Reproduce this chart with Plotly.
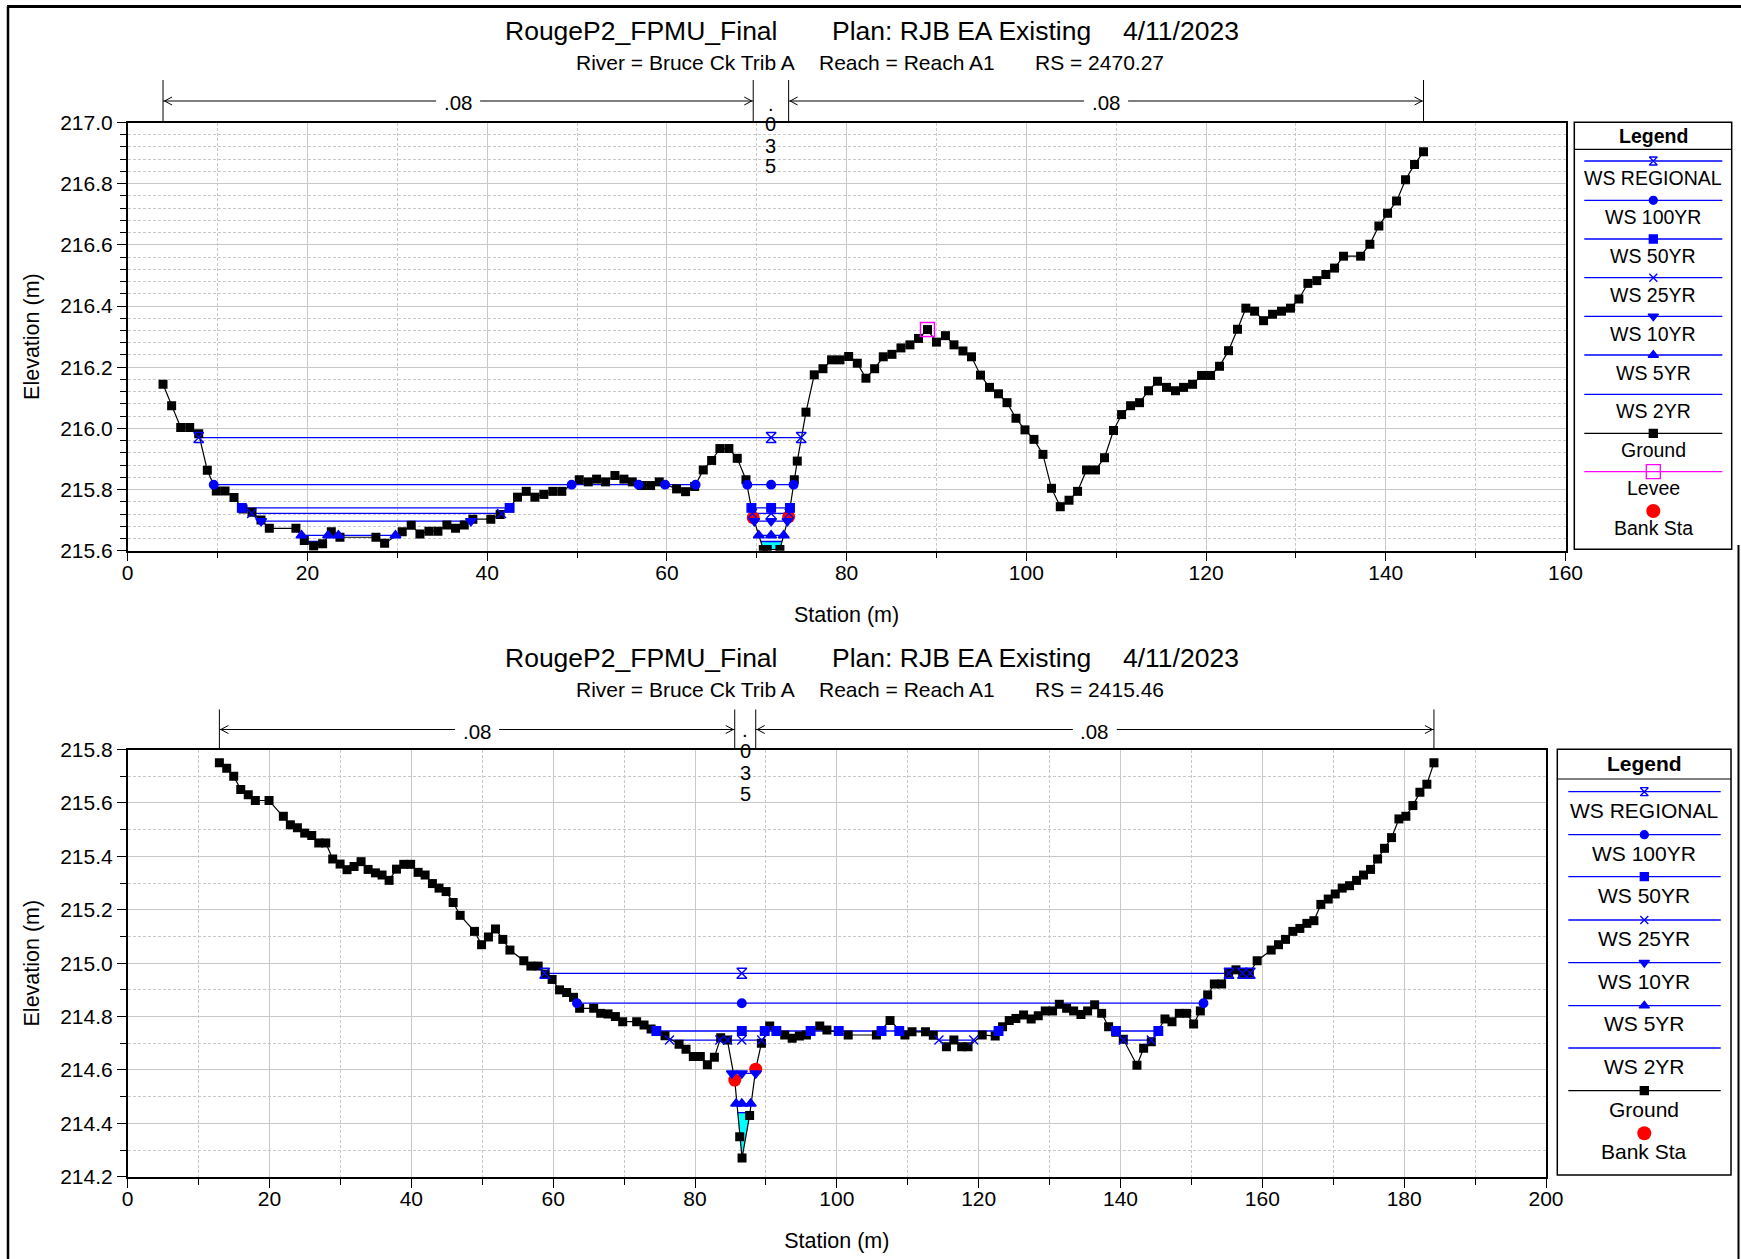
import plotly.graph_objects as go

W, H = 1741, 1259
FONT = "Liberation Sans, Arial, sans-serif"
BLUE = "#0000FF"

def px(x):
    return x / W

def py(y):
    return 1 - y / H

# ---------------- DATA: upper cross section (RS 2470.27) ----------------
top_ground = [
    (3.93, 216.144), (4.89, 216.074), (5.9, 216.003), (6.9, 216.003), (7.9, 215.982),
    (8.86, 215.863), (9.86, 215.795), (10.83, 215.795), (11.83, 215.774), (12.83, 215.736),
    (13.83, 215.726), (14.83, 215.700), (15.76, 215.673), (18.72, 215.673), (19.65, 215.633),
    (20.69, 215.615), (21.69, 215.623), (22.66, 215.662), (23.62, 215.644), (27.62, 215.644),
    (28.59, 215.624), (30.55, 215.662), (31.55, 215.683), (32.52, 215.655), (33.52, 215.664),
    (34.52, 215.664), (35.52, 215.684), (36.48, 215.673), (37.45, 215.684), (38.41, 215.703),
    (40.41, 215.703), (41.45, 215.718), (42.49, 215.740), (43.38, 215.775), (44.35, 215.794),
    (45.31, 215.775), (46.31, 215.784), (47.31, 215.794), (48.31, 215.794), (50.25, 215.832),
    (51.25, 215.825), (52.18, 215.834), (53.18, 215.825), (54.22, 215.846), (55.22, 215.834),
    (56.15, 215.825), (57.19, 215.813), (58.19, 215.813), (59.15, 215.825), (61.08, 215.802),
    (62.08, 215.793), (63.09, 215.810), (64.05, 215.864), (64.98, 215.895), (65.9, 215.934),
    (66.9, 215.934), (67.83, 215.902), (68.8, 215.832), (69.61, 215.708), (70.73, 215.604),
    (71.17, 215.604), (72.58, 215.604), (73.55, 215.711), (74.18, 215.832), (74.51, 215.893),
    (75.48, 216.053), (76.4, 216.175), (77.37, 216.195), (78.33, 216.224), (79.26, 216.224),
    (80.23, 216.235), (81.19, 216.213), (82.15, 216.164), (83.12, 216.195), (84.08, 216.234),
    (85.05, 216.242), (86.05, 216.263), (87.05, 216.273), (88.0, 216.294), (89.0, 216.323),
    (90.0, 216.282), (91.0, 216.303), (91.95, 216.273), (92.95, 216.253), (93.9, 216.234),
    (94.9, 216.174), (95.9, 216.134), (96.9, 216.113), (97.85, 216.084), (98.85, 216.033),
    (99.85, 215.995), (100.85, 215.964), (101.85, 215.915), (102.8, 215.804), (103.78, 215.744),
    (104.75, 215.765), (105.7, 215.794), (106.7, 215.864), (107.7, 215.864), (108.7, 215.904),
    (109.7, 215.993), (110.6, 216.045), (111.6, 216.074), (112.6, 216.084), (113.6, 216.123),
    (114.6, 216.154), (115.6, 216.134), (116.6, 216.123), (117.5, 216.134), (118.5, 216.144),
    (119.5, 216.173), (120.5, 216.173), (121.5, 216.203), (122.5, 216.254), (123.5, 216.324),
    (124.43, 216.393), (125.4, 216.383), (126.4, 216.352), (127.4, 216.373), (128.4, 216.383),
    (129.4, 216.393), (130.33, 216.423), (131.33, 216.474), (132.33, 216.483), (133.33, 216.503),
    (134.3, 216.524), (135.3, 216.563), (137.2, 216.563), (138.23, 216.602), (139.23, 216.662),
    (140.2, 216.703), (141.2, 216.743), (142.2, 216.813), (143.2, 216.863), (144.2, 216.904),
]
top_bank = [(69.61, 215.708), (73.55, 215.711)]
top_levee = [(89.0, 216.323)]
top_ws_elev = [215.97, 215.816, 215.74, 215.722, 215.697, 215.65, 215.63]
top_ws_segments = [
    [(7.9, 74.95)],
    [(9.57, 63.2), (68.95, 74.1)],
    [(12.7, 42.5), (69.4, 73.7)],
    [(13.8, 41.6), (69.52, 73.61)],
    [(14.85, 38.2), (69.73, 73.42)],
    [(19.35, 22.3), (23.45, 29.8), (70.23, 73.0)],
    [(19.85, 21.85), (70.45, 72.82)],
]
top_ws_markers = [
    [7.9, 71.6, 74.95],
    [9.57, 49.4, 56.85, 59.8, 63.2, 68.95, 71.6, 74.1],
    [12.7, 42.5, 69.4, 71.6, 73.7],
    [13.8, 41.6, 69.52, 71.6, 73.61],
    [14.85, 38.2, 69.73, 71.6, 73.42],
    [19.35, 22.3, 23.45, 29.8, 70.23, 71.6, 73.0],
    [],
]
top_x_ticks = [0, 20, 40, 60, 80, 100, 120, 140, 160]
top_y_range = [215.6, 217.0]
top_n_values = [".08", ".035", ".08"]
top_title = ["RougeP2_FPMU_Final", "Plan: RJB EA Existing", "4/11/2023"]
top_subtitle = ["River = Bruce Ck Trib A", "Reach = Reach A1", "RS = 2470.27"]

# ---------------- DATA: lower cross section (RS 2415.46) ----------------
bot_ground = [
    (12.93, 215.75), (13.96, 215.73), (14.95, 215.70), (15.94, 215.65), (17.0, 215.631),
    (18.0, 215.609), (19.93, 215.609), (21.95, 215.55), (22.94, 215.518), (23.93, 215.507),
    (24.96, 215.487), (25.95, 215.478), (26.94, 215.45), (27.93, 215.45), (28.91, 215.39),
    (29.95, 215.371), (30.93, 215.35), (31.92, 215.362), (32.91, 215.38), (33.9, 215.351),
    (34.93, 215.338), (35.87, 215.33), (36.86, 215.31), (37.9, 215.352), (38.93, 215.37),
    (39.9, 215.37), (40.95, 215.34), (41.94, 215.33), (42.97, 215.298), (43.9, 215.281),
    (44.9, 215.268), (45.89, 215.227), (46.88, 215.179), (48.9, 215.119), (49.9, 215.069),
    (50.87, 215.098), (51.86, 215.128), (52.9, 215.089), (53.9, 215.049), (55.86, 215.009),
    (56.85, 214.989), (57.88, 214.989), (58.87, 214.959), (59.85, 214.939), (60.9, 214.90),
    (61.9, 214.89), (62.86, 214.872), (63.73, 214.831), (65.71, 214.831), (66.7, 214.812),
    (67.73, 214.81), (68.77, 214.80), (69.8, 214.781), (71.77, 214.781), (72.81, 214.768),
    (73.8, 214.753), (75.77, 214.728), (77.75, 214.696), (78.73, 214.678), (79.76, 214.65),
    (80.75, 214.65), (81.74, 214.62), (82.73, 214.648), (83.62, 214.721), (84.56, 214.712),
    (85.6, 214.562), (86.3, 214.35), (86.63, 214.27), (87.7, 214.43), (88.56, 214.603),
    (89.36, 214.70), (90.53, 214.765), (92.65, 214.731), (93.7, 214.719), (94.71, 214.727),
    (95.71, 214.731), (97.59, 214.765), (98.6, 214.75), (101.6, 214.731), (105.58, 214.731),
    (107.5, 214.785), (109.6, 214.731), (110.6, 214.743), (112.5, 214.743), (113.6, 214.73),
    (115.45, 214.687), (116.5, 214.712), (117.6, 214.687), (118.5, 214.687), (120.5, 214.731),
    (122.33, 214.727), (123.37, 214.762), (124.31, 214.785), (125.25, 214.793), (126.33, 214.806),
    (127.4, 214.791), (128.4, 214.803), (129.39, 214.821), (130.42, 214.821), (131.37, 214.846),
    (132.4, 214.831), (133.39, 214.821), (134.42, 214.808), (135.36, 214.821), (136.35, 214.844),
    (137.34, 214.812), (138.32, 214.762), (139.36, 214.741), (140.39, 214.715), (142.32, 214.618),
    (143.26, 214.681), (144.34, 214.706), (146.27, 214.791), (147.26, 214.781), (148.29, 214.812),
    (149.33, 214.812), (150.31, 214.772), (151.26, 214.821), (152.29, 214.881), (153.23, 214.922),
    (154.26, 214.922), (155.25, 214.962), (156.28, 214.975), (157.23, 214.962), (158.17, 214.962),
    (159.27, 215.009), (161.25, 215.049), (162.28, 215.069), (163.27, 215.089), (164.3, 215.119),
    (165.29, 215.13), (166.28, 215.149), (167.27, 215.159), (168.25, 215.22), (169.29, 215.24),
    (170.28, 215.259), (171.26, 215.281), (172.3, 215.29), (173.29, 215.31), (174.27, 215.33),
    (175.26, 215.351), (176.25, 215.39), (177.23, 215.43), (178.22, 215.47), (179.26, 215.54),
    (180.24, 215.55), (181.23, 215.59), (182.22, 215.64), (183.2, 215.67), (184.2, 215.75),
]
bot_bank = [(85.6, 214.562), (88.56, 214.603)]
bot_ws_elev = [214.962, 214.85, 214.746, 214.712, 214.587, 214.474, 214.44]
bot_ws_segments = [
    [(58.8, 155.3), (157.0, 158.7)],
    [(63.36, 151.7)],
    [(74.55, 122.8), (139.36, 145.33)],
    [(76.4, 83.5), (84.6, 89.4), (114.4, 119.3), (140.4, 144.34)],
    [(85.2, 88.56)],
    [(85.8, 87.85)],
    [(86.0, 87.75)],
]
bot_ws_markers = [
    [58.8, 86.6, 155.3, 157.2, 158.3],
    [63.36, 86.6, 151.7],
    [74.55, 86.6, 89.83, 91.47, 96.3, 100.27, 106.3, 108.8, 122.8, 139.36, 145.33],
    [76.4, 83.5, 84.6, 86.6, 89.4, 114.4, 119.3, 140.4, 144.34],
    [85.2, 86.6, 88.56],
    [85.8, 86.6, 87.85],
    [],
]
bot_x_ticks = [0, 20, 40, 60, 80, 100, 120, 140, 160, 180, 200]
bot_y_range = [214.2, 215.8]
bot_n_values = [".08", ".035", ".08"]
bot_title = ["RougeP2_FPMU_Final", "Plan: RJB EA Existing", "4/11/2023"]
bot_subtitle = ["River = Bruce Ck Trib A", "Reach = Reach A1", "RS = 2415.46"]

ws_names = ["WS REGIONAL", "WS 100YR", "WS 50YR", "WS 25YR", "WS 10YR", "WS 5YR", "WS 2YR"]
x_title = "Station (m)"
y_title = "Elevation (m)"

# ---------------- styles ----------------
ws_symbols = ["hourglass-open", "circle", "square", "x-thin-open", "triangle-down", "triangle-up", None]
ws_sizes = [10, 8.5, 8.5, 9, 9.5, 9.5, 0]

fig = go.Figure()

# layout geometry (pixels)
TOP = dict(l=127.7, r=1565.5, t=122.5, b=550.7)
BOT = dict(l=127.7, r=1546.0, t=749.5, b=1176.8)


def add_section(xa, ya, ground, bank, levee, ws_elev, ws_segs, ws_marks):
    gs = [g[0] for g in ground]
    ge = [g[1] for g in ground]
    # cyan fill of the lowest profile
    h = ws_elev[-1]
    for (a, b) in ws_segs[-1]:
        fx = [a] + [s for s in gs if a < s < b] + [b, a]
        fy = [h] + [e for s, e in zip(gs, ge) if a < s < b] + [h, h]
        fig.add_trace(go.Scatter(x=fx, y=fy, xaxis=xa, yaxis=ya, fill="toself",
                                 fillcolor="#00FFFF", mode="lines", line=dict(width=0),
                                 showlegend=False, hoverinfo="skip"))
    # WS lines
    for i, elev in enumerate(ws_elev):
        lx, ly = [], []
        for (a, b) in ws_segs[i]:
            lx += [a, b, None]
            ly += [elev, elev, None]
        fig.add_trace(go.Scatter(x=lx, y=ly, xaxis=xa, yaxis=ya, mode="lines",
                                 line=dict(color=BLUE, width=1.3), showlegend=False,
                                 name=ws_names[i]))
    # ground
    fig.add_trace(go.Scatter(x=gs, y=ge, xaxis=xa, yaxis=ya, mode="lines+markers",
                             line=dict(color="black", width=1.2),
                             marker=dict(symbol="square", size=9, color="black"),
                             showlegend=False, name="Ground"))
    # bank stations
    fig.add_trace(go.Scatter(x=[b[0] for b in bank], y=[b[1] for b in bank], xaxis=xa, yaxis=ya,
                             mode="markers", marker=dict(symbol="circle", size=13, color="#FF0000"),
                             showlegend=False, name="Bank Sta"))
    # WS markers
    for i, elev in enumerate(ws_elev):
        if not ws_marks[i]:
            continue
        fig.add_trace(go.Scatter(x=ws_marks[i], y=[elev] * len(ws_marks[i]), xaxis=xa, yaxis=ya,
                                 mode="markers",
                                 marker=dict(symbol=ws_symbols[i], size=ws_sizes[i], color=BLUE,
                                             line=dict(color=BLUE, width=1.4)),
                                 showlegend=False, name=ws_names[i]))
    # levee
    if levee:
        fig.add_trace(go.Scatter(x=[v[0] for v in levee], y=[v[1] for v in levee], xaxis=xa, yaxis=ya,
                                 mode="markers",
                                 marker=dict(symbol="square-open", size=14, color="#FF00FF",
                                             line=dict(color="#FF00FF", width=1.4)),
                                 showlegend=False, name="Levee"))


add_section("x", "y", top_ground, top_bank, top_levee, top_ws_elev, top_ws_segments, top_ws_markers)
add_section("x2", "y2", bot_ground, bot_bank, [], bot_ws_elev, bot_ws_segments, bot_ws_markers)

annotations = []
shapes = []
TITLE_FONT = dict(family=FONT, size=21.5, color="black")


def axis_common():
    return dict(showgrid=True, gridcolor="#c8c8c8", gridwidth=1.3, ticks="outside", ticklen=9,
                tickcolor="black", tickwidth=1, showline=True, linecolor="black", linewidth=1.5,
                mirror=True, zeroline=False, fixedrange=True, automargin=False,
                tickfont=dict(family=FONT, size=21, color="black"))


def minor(dt, tl=6):
    return dict(dtick=dt, showgrid=True, gridcolor="#c8c8c8", griddash="3px,2px", gridwidth=1,
                ticks="outside", ticklen=tl, tickcolor="black")


xa1 = axis_common()
xa1.update(domain=[px(TOP["l"]), px(TOP["r"])], range=[0, 160], anchor="y", tickvals=top_x_ticks,
           minor=minor(10), ticklabelstandoff=-7,
           title=dict(text=x_title, font=TITLE_FONT, standoff=24))
ya1 = axis_common()
ya1.update(domain=[py(TOP["b"]), py(TOP["t"])], range=top_y_range, anchor="x", dtick=0.2,
           tick0=215.6, tickformat=".1f", minor=minor(0.04),
           title=dict(text=y_title, font=TITLE_FONT, standoff=15))
xa2 = axis_common()
xa2.update(domain=[px(BOT["l"]), px(BOT["r"])], range=[0, 200], anchor="y2", tickvals=bot_x_ticks,
           minor=minor(10), ticklabelstandoff=-7,
           title=dict(text=x_title, font=TITLE_FONT, standoff=24))
ya2 = axis_common()
ya2.update(domain=[py(BOT["b"]), py(BOT["t"])], range=bot_y_range, anchor="x2", dtick=0.2,
           tick0=214.2, tickformat=".1f", minor=minor(0.1),
           title=dict(text=y_title, font=TITLE_FONT, standoff=15))


def add_frame_text(geo, title, subtitle, y1, y2, ground, bank, nvals, ppu, tick_top, arrow_y,
                   chars_y):
    # titles
    for t, cx in zip(title, [641.5, 961, 1181]):
        annotations.append(dict(text=t, x=px(cx), y=py(y1), xref="paper", yref="paper",
                                showarrow=False, xanchor="center", yanchor="middle",
                                font=dict(family=FONT, size=26.5, color="black")))
    for t, cx in zip(subtitle, [685.5, 907, 1099]):
        annotations.append(dict(text=t, x=px(cx), y=py(y2), xref="paper", yref="paper",
                                showarrow=False, xanchor="center", yanchor="middle",
                                font=dict(family=FONT, size=21, color="black")))
    # Manning's n bracket
    xr = "x" if geo is TOP else "x2"
    x_start = ground[0][0]
    x_end = ground[-1][0]
    lb, rb = bank[0][0], bank[1][0]
    for xv in [x_start, lb, rb, x_end]:
        shapes.append(dict(type="line", xref=xr, yref="paper", x0=xv, x1=xv,
                           y0=py(tick_top), y1=py(geo["t"]), line=dict(color="black", width=1)))
    gap = 22 / ppu
    for (a, b, txt) in [(x_start, lb, nvals[0]), (rb, x_end, nvals[2])]:
        m = (a + b) / 2
        shapes.append(dict(type="line", xref=xr, yref="paper", x0=a, x1=m - gap,
                           y0=py(arrow_y), y1=py(arrow_y), line=dict(color="black", width=1)))
        shapes.append(dict(type="line", xref=xr, yref="paper", x0=m + gap, x1=b,
                           y0=py(arrow_y), y1=py(arrow_y), line=dict(color="black", width=1)))
        shapes.append(dict(type="path", xref=xr, yref="paper", xsizemode="pixel", ysizemode="pixel",
                           xanchor=a, yanchor=py(arrow_y), path="M 9,4 L 1.5,0 L 9,-4",
                           line=dict(color="black", width=1)))
        shapes.append(dict(type="path", xref=xr, yref="paper", xsizemode="pixel", ysizemode="pixel",
                           xanchor=b, yanchor=py(arrow_y), path="M -9,4 L -1.5,0 L -9,-4",
                           line=dict(color="black", width=1)))
        annotations.append(dict(text=txt, x=m, y=py(arrow_y + 1.5), xref=xr, yref="paper",
                                showarrow=False, xanchor="center", yanchor="middle",
                                font=dict(family=FONT, size=20.5, color="black")))
    mid = (lb + rb) / 2
    for ch, yy in zip(list(nvals[1]), chars_y):
        annotations.append(dict(text=ch, x=mid, y=py(yy), xref=xr, yref="paper", showarrow=False,
                                xanchor="center", yanchor="middle",
                                font=dict(family=FONT, size=20, color="black")))


add_frame_text(TOP, top_title, top_subtitle, 31, 62, top_ground, top_bank, top_n_values,
               (TOP["r"] - TOP["l"]) / 160, 80, 101, [104, 124.4, 145.5, 166.5])
add_frame_text(BOT, bot_title, bot_subtitle, 658.4, 689.5, bot_ground, bot_bank, bot_n_values,
               (BOT["r"] - BOT["l"]) / 200, 709.5, 729.5, [730, 750.6, 772.8, 793.9])

# ---------------- legends ----------------
legend_styles = {
    "WS REGIONAL": (BLUE, "hourglass-open", 8),
    "WS 100YR": (BLUE, "circle", 8),
    "WS 50YR": (BLUE, "square", 8),
    "WS 25YR": (BLUE, "x-thin-open", 8),
    "WS 10YR": (BLUE, "triangle-down", 9),
    "WS 5YR": (BLUE, "triangle-up", 9),
    "WS 2YR": (BLUE, None, 0),
    "Ground": ("black", "square", 8),
    "Levee": ("#FF00FF", "square-open", 14),
    "Bank Sta": ("#FF0000", None, 14),
}


def add_legend(xa, ya, box, sep_y, title_y, names, line_ys, text_ys, lx0, lx1, mx, fs):
    l, r, t, b = box
    layout_axes[xa] = dict(domain=[px(l), px(r)], range=[l, r], visible=False, fixedrange=True,
                           automargin=False, anchor=ya.replace("yaxis", "y"))
    layout_axes[ya] = dict(domain=[py(b), py(t)], range=[b, t], visible=False, fixedrange=True,
                           automargin=False, anchor=xa.replace("xaxis", "x"))
    xr = xa.replace("xaxis", "x")
    yr = ya.replace("yaxis", "y")
    shapes.append(dict(type="rect", xref="paper", yref="paper", x0=px(l), x1=px(r), y0=py(b), y1=py(t),
                       line=dict(color="black", width=1.5), fillcolor="white", layer="below"))
    shapes.append(dict(type="line", xref="paper", yref="paper", x0=px(l), x1=px(r), y0=py(sep_y),
                       y1=py(sep_y), line=dict(color="black", width=1.2)))
    annotations.append(dict(text="<b>Legend</b>", x=px((l + r) / 2), y=py(title_y), xref="paper",
                            yref="paper", showarrow=False, xanchor="center", yanchor="middle",
                            font=dict(family=FONT, size=fs, color="black")))
    for name, ly, ty in zip(names, line_ys, text_ys):
        color, sym, size = legend_styles[name]
        if name == "Bank Sta":
            fig.add_trace(go.Scatter(x=[mx], y=[ly], xaxis=xr, yaxis=yr, mode="markers",
                                     marker=dict(symbol="circle", size=size, color=color),
                                     showlegend=False, hoverinfo="skip"))
        else:
            fig.add_trace(go.Scatter(x=[lx0, lx1], y=[ly, ly], xaxis=xr, yaxis=yr, mode="lines",
                                     line=dict(color=color, width=1.3), showlegend=False,
                                     hoverinfo="skip"))
            if sym:
                fig.add_trace(go.Scatter(x=[mx], y=[ly], xaxis=xr, yaxis=yr, mode="markers",
                                         marker=dict(symbol=sym, size=size, color=color,
                                                     line=dict(color=color, width=1.3)),
                                         showlegend=False, hoverinfo="skip"))
        annotations.append(dict(text=name, x=px(mx), y=py(ty), xref="paper", yref="paper",
                                showarrow=False, xanchor="center", yanchor="middle",
                                font=dict(family=FONT, size=fs, color="black")))


layout_axes = {}
top_legend_names = ws_names + ["Ground", "Levee", "Bank Sta"]
bot_legend_names = ws_names + ["Ground", "Bank Sta"]
add_legend("xaxis3", "yaxis3", (1574.3, 1731.7, 122.3, 549.3), 149.3, 135.5, top_legend_names,
           [161, 200.3, 239, 277.7, 316.3, 355, 394.3, 433.3, 471.7, 511],
           [177.7, 216.7, 256, 295, 334, 372.7, 411, 450, 488.3, 528.3], 1584.3, 1722.3, 1653.3, 19.5)
add_legend("xaxis4", "yaxis4", (1557.3, 1731.0, 749.3, 1175.0), 779, 763, bot_legend_names,
           [791.7, 834.7, 876.7, 920, 962.7, 1005.7, 1048, 1090.7, 1133.3],
           [810.7, 854, 895.7, 939, 981.3, 1024, 1066.7, 1109.3, 1151.7], 1568.3, 1720.7, 1644.3, 21)

# window frame lines
shapes.append(dict(type="line", xref="paper", yref="paper", x0=px(8), x1=px(8), y0=py(6), y1=py(H),
                   line=dict(color="black", width=2.5)))
shapes.append(dict(type="line", xref="paper", yref="paper", x0=px(7), x1=px(W), y0=py(6.5), y1=py(6.5),
                   line=dict(color="black", width=3)))
shapes.append(dict(type="line", xref="paper", yref="paper", x0=px(1738.5), x1=px(1738.5), y0=py(545),
                   y1=py(H), line=dict(color="black", width=2)))

fig.update_layout(
    width=W, height=H, margin=dict(l=0, r=0, t=0, b=0, pad=0, autoexpand=False), autosize=False,
    paper_bgcolor="white", plot_bgcolor="white", showlegend=False,
    font=dict(family=FONT, color="black"),
    xaxis=xa1, yaxis=ya1, xaxis2=xa2, yaxis2=ya2,
    annotations=annotations, shapes=shapes,
)
fig.update_layout(**layout_axes)

fig.write_html("out.html",
               config={"displayModeBar": False, "responsive": False},
               post_script="document.body.style.margin='0';document.body.style.padding='0';"
                           "document.body.style.overflow='hidden';")
